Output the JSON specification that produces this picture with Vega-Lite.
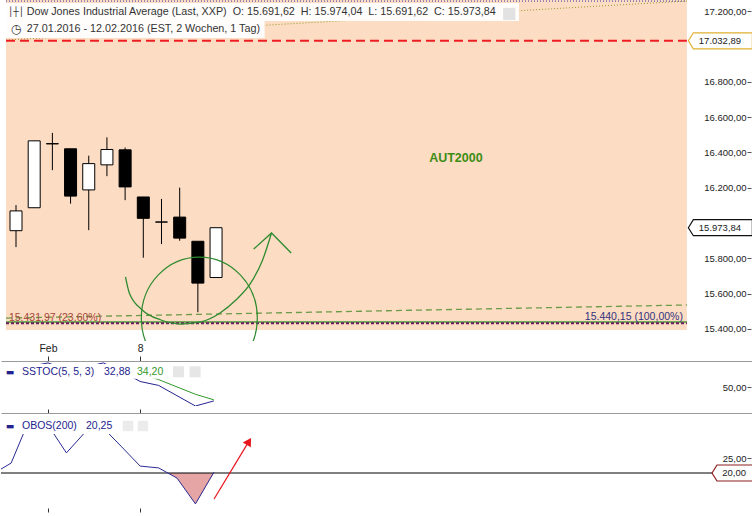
{
  "$schema": "https://vega.github.io/schema/vega-lite/v6.json",
  "background": "white",
  "padding": 0,
  "spacing": 2,
  "config": {
    "view": {"stroke": null},
    "font": "Liberation Sans",
    "axis": {"labelOverlap": false, "labelBound": false},
    "locale": {"number": {"decimal": ",", "thousands": ".", "grouping": [3], "currency": ["", " €"]}}
  },
  "datasets": {
    "candles": [
      {"date": "2016-01-28", "i": 0, "o": 15957, "h": 16102, "l": 15864, "c": 16069},
      {"date": "2016-01-29", "i": 1, "o": 16087, "h": 16466, "l": 16087, "c": 16466},
      {"date": "2016-02-01", "i": 2, "o": 16450, "h": 16511, "l": 16300, "c": 16449},
      {"date": "2016-02-02", "i": 3, "o": 16421, "h": 16421, "l": 16110, "c": 16153},
      {"date": "2016-02-03", "i": 4, "o": 16188, "h": 16382, "l": 15960, "c": 16337},
      {"date": "2016-02-04", "i": 5, "o": 16330, "h": 16486, "l": 16266, "c": 16417},
      {"date": "2016-02-05", "i": 6, "o": 16415, "h": 16428, "l": 16130, "c": 16205},
      {"date": "2016-02-08", "i": 7, "o": 16148, "h": 16148, "l": 15804, "c": 16027},
      {"date": "2016-02-09", "i": 8, "o": 16006, "h": 16137, "l": 15881, "c": 16006},
      {"date": "2016-02-10", "i": 9, "o": 16034, "h": 16201, "l": 15900, "c": 15915},
      {"date": "2016-02-11", "i": 10, "o": 15897, "h": 15897, "l": 15495, "c": 15660},
      {"date": "2016-02-12", "i": 11, "o": 15691.62, "h": 15974.04, "l": 15691.62, "c": 15973.84}
    ],
    "sstoc": [
      {"i": -1, "k": 60, "d": 64},
      {"i": 0, "k": 66, "d": 64},
      {"i": 1, "k": 76, "d": 67},
      {"i": 2, "k": 80.5, "d": 73},
      {"i": 3, "k": 72, "d": 76},
      {"i": 4, "k": 75, "d": 76},
      {"i": 5, "k": 80.5, "d": 76},
      {"i": 6, "k": 70, "d": 75},
      {"i": 7, "k": 57.2, "d": 67},
      {"i": 8, "k": 52.3, "d": 59.6},
      {"i": 9, "k": 39.4, "d": 50.4},
      {"i": 10, "k": 26.5, "d": 41.2},
      {"i": 11, "k": 32.88, "d": 34.2}
    ],
    "obos": [
      {"i": -1, "v": 19.7},
      {"i": 0, "v": 23.3},
      {"i": 1, "v": 38},
      {"i": 2, "v": 36},
      {"i": 3, "v": 26.7},
      {"i": 4, "v": 33.5},
      {"i": 5, "v": 35},
      {"i": 6, "v": 28.7},
      {"i": 7, "v": 22.3},
      {"i": 8, "v": 21.7},
      {"i": 9, "v": 18.3},
      {"i": 10, "v": 9.7},
      {"i": 11, "v": 20.25}
    ],
    "obosfill": [
      {"i": 8.5, "f": 20},
      {"i": 9, "f": 18.3},
      {"i": 10, "f": 9.7},
      {"i": 11, "f": 20}
    ],
    "arc": [
      {"i": 6.02, "p": 15695},
      {"i": 6.23, "p": 15604},
      {"i": 6.94, "p": 15508},
      {"i": 7.97, "p": 15451},
      {"i": 9.05, "p": 15428},
      {"i": 10.14, "p": 15440},
      {"i": 11.22, "p": 15491},
      {"i": 12.09, "p": 15564},
      {"i": 12.91, "p": 15661},
      {"i": 13.56, "p": 15791},
      {"i": 14.05, "p": 15944}
    ],
    "chevron": [
      {"i": 13.07, "p": 15853},
      {"i": 14.05, "p": 15944},
      {"i": 15.13, "p": 15831}
    ],
    "one": [{}]
  },
  "vconcat": [
    {
      "width": 752,
      "height": 341,
      "layer": [
        {
          "data": {"name": "one"},
          "mark": {"type": "rect", "color": "#FCDCC2"},
          "encoding": {
            "x": {"datum": -0.55, "type": "quantitative", "scale": {"domain": [-0.55, 40.25], "nice": false, "zero": false}, "axis": null},
            "x2": {"datum": 36.89},
            "y": {"datum": 15394, "type": "quantitative", "scale": {"domain": [15332, 17264], "nice": false, "zero": false},
              "axis": {"orient": "right", "offset": -6, "values": [15400, 15600, 15800, 16200, 16400, 16600, 16800, 17200], "format": ",.2f", "labelAlign": "right", "labelBaseline": "middle", "labelPadding": -5, "tickSize": 4, "domain": false, "grid": false, "labelFontSize": 9.5, "labelColor": "#222222", "tickColor": "#555555", "labelFlush": false, "labelOverlap": false, "title": null}},
            "y2": {"datum": 17264}
          }
        },
        {
          "data": {"name": "one"},
          "mark": {"type": "rule", "color": "#3030A8", "strokeDash": [1, 2], "strokeWidth": 1},
          "encoding": {"x": {"datum": -0.55, "axis": null}, "x2": {"datum": 36.89}, "y": {"datum": 17258, "title": null}}
        },
        {
          "data": {"name": "one"},
          "mark": {"type": "rule", "color": "#9A9A30", "strokeDash": [1, 2], "strokeWidth": 1},
          "encoding": {"x": {"datum": -0.55, "axis": null}, "x2": {"datum": 36.89}, "y": {"datum": 17037, "title": null}, "y2": {"datum": 17258}}
        },
        {
          "data": {"values": [{"level": 17032.89}]},
          "mark": {"type": "rule", "color": "#EE1C24", "strokeDash": [9, 5], "strokeWidth": 2},
          "encoding": {"x": {"datum": -0.55, "axis": null}, "x2": {"datum": 36.89}, "y": {"field": "level", "type": "quantitative", "title": null}}
        },
        {
          "data": {"name": "one"},
          "mark": {"type": "rect", "color": "white", "opacity": 0.93},
          "encoding": {"x": {"datum": -0.55, "axis": null}, "x2": {"datum": 27.66}, "y": {"datum": 17145, "title": null}, "y2": {"datum": 17247}}
        },
        {
          "data": {"name": "one"},
          "mark": {"type": "rect", "color": "white", "opacity": 0.93},
          "encoding": {"x": {"datum": -0.55, "axis": null}, "x2": {"datum": 13.67}, "y": {"datum": 17049, "title": null}, "y2": {"datum": 17145}}
        },
        {
          "data": {"values": [{"label": "Dow Jones Industrial Average (Last, XXP)\u00a0 O: 15.691,62\u00a0 H: 15.974,04\u00a0 L: 15.691,62\u00a0 C: 15.973,84"}]},
          "mark": {"type": "text", "align": "left", "baseline": "middle", "fontSize": 10.75, "color": "#333333"},
          "encoding": {"x": {"datum": 0.59, "axis": null}, "y": {"datum": 17196, "title": null}, "text": {"field": "label"}}
        },
        {
          "data": {"values": [{"label": "27.01.2016 - 12.02.2016 (EST, 2 Wochen, 1 Tag)"}]},
          "mark": {"type": "text", "align": "left", "baseline": "middle", "fontSize": 10.75, "color": "#333333"},
          "encoding": {"x": {"datum": 0.59, "axis": null}, "y": {"datum": 17100, "title": null}, "text": {"field": "label"}}
        },
        {
          "data": {"values": [{"label": "│┼│"}]},
          "mark": {"type": "text", "align": "center", "baseline": "middle", "fontSize": 9, "font": "DejaVu Sans", "color": "#333333"},
          "encoding": {"x": {"datum": 0, "axis": null}, "y": {"datum": 17196, "title": null}, "text": {"field": "label"}}
        },
        {
          "data": {"values": [{"label": "◷"}]},
          "mark": {"type": "text", "align": "center", "baseline": "middle", "fontSize": 12, "font": "DejaVu Sans", "color": "#333333"},
          "encoding": {"x": {"datum": 0, "axis": null}, "y": {"datum": 17100, "title": null}, "text": {"field": "label"}}
        },
        {
          "data": {"name": "one"},
          "mark": {"type": "point", "shape": "square", "filled": true, "size": 150, "color": "#E2E2E2", "opacity": 1},
          "encoding": {"x": {"datum": 27.12, "axis": null}, "y": {"datum": 17185, "title": null}}
        },
        {
          "data": {"values": [{"label": "AUT2000"}]},
          "mark": {"type": "text", "align": "center", "baseline": "middle", "fontSize": 12.5, "fontWeight": "bold", "color": "#3C8C14"},
          "encoding": {"x": {"datum": 24.19, "axis": null}, "y": {"datum": 16369, "title": null}, "text": {"field": "label"}}
        },
        {
          "data": {"name": "one"},
          "mark": {"type": "rule", "color": "#6B9A48", "strokeDash": [6, 4], "strokeWidth": 1.3},
          "encoding": {"x": {"datum": -0.55, "axis": null}, "x2": {"datum": 36.89}, "y": {"datum": 15462, "title": null}, "y2": {"datum": 15536}}
        },
        {
          "data": {"values": [{"level": 15440.15}]},
          "mark": {"type": "rule", "color": "#4C9A3C", "strokeWidth": 1.5},
          "encoding": {"x": {"datum": -0.55, "axis": null}, "x2": {"datum": 36.89}, "y": {"field": "level", "type": "quantitative", "title": null}}
        },
        {
          "data": {"values": [{"level": 15431.97}]},
          "mark": {"type": "rule", "color": "#6B1D5E", "strokeDash": [3, 2], "strokeWidth": 2},
          "encoding": {"x": {"datum": -0.55, "axis": null}, "x2": {"datum": 36.89}, "y": {"field": "level", "type": "quantitative", "title": null}}
        },
        {
          "data": {"values": [{"level": 15431.97, "label": "15.431,97 (23,60%)"}]},
          "mark": {"type": "text", "align": "left", "baseline": "alphabetic", "dy": -2, "fontSize": 10.5, "color": "#A8473A"},
          "encoding": {"x": {"datum": -0.39, "axis": null}, "y": {"field": "level", "type": "quantitative", "title": null}, "text": {"field": "label"}}
        },
        {
          "data": {"values": [{"level": 15440.15, "label": "15.440,15 (100,00%)"}]},
          "mark": {"type": "text", "align": "right", "baseline": "alphabetic", "dy": -1.5, "fontSize": 10.5, "color": "#33337F"},
          "encoding": {"x": {"datum": 36.67, "axis": null}, "y": {"field": "level", "type": "quantitative", "title": null}, "text": {"field": "label"}}
        },
        {
          "data": {"name": "candles"},
          "mark": {"type": "rule", "color": "black", "strokeWidth": 1},
          "encoding": {
            "x": {"field": "i", "type": "quantitative", "axis": null},
            "y": {"field": "l", "type": "quantitative", "title": null},
            "y2": {"field": "h"}
          }
        },
        {
          "data": {"name": "candles"},
          "mark": {"type": "bar", "width": 12, "stroke": "black", "strokeWidth": 1},
          "encoding": {
            "x": {"field": "i", "type": "quantitative", "axis": null},
            "y": {"field": "o", "type": "quantitative", "title": null},
            "y2": {"field": "c"},
            "fill": {"condition": {"test": "datum.c < datum.o", "value": "black"}, "value": "white"}
          }
        },
        {
          "data": {"name": "one"},
          "mark": {"type": "point", "shape": "M -1 0 C -1 -0.581 -0.552 -1.052 0 -1.052 C 0.552 -1.052 1 -0.581 1 0 C 1 0.581 0.552 1.052 0 1.052 C -0.552 1.052 -1 0.581 -1 0 Z", "size": 13456, "filled": false, "stroke": "#2E8B30", "strokeWidth": 1.2, "opacity": 1, "clip": true},
          "encoding": {"x": {"datum": 10.08, "axis": null}, "y": {"datum": 15462, "title": null}}
        },
        {
          "data": {"name": "arc"},
          "mark": {"type": "line", "interpolate": "monotone", "color": "#2E8B30", "strokeWidth": 1.3, "clip": true},
          "encoding": {"x": {"field": "i", "type": "quantitative", "axis": null}, "y": {"field": "p", "type": "quantitative", "title": null}}
        },
        {
          "data": {"name": "chevron"},
          "mark": {"type": "line", "color": "#2E8B30", "strokeWidth": 1.3},
          "encoding": {"x": {"field": "i", "type": "quantitative", "axis": null}, "y": {"field": "p", "type": "quantitative", "title": null}}
        },
        {
          "data": {"values": [{"level": 17032.89}]},
          "mark": {"type": "point", "shape": "M -1 0 L -0.844 -0.25 L 1 -0.25 L 1 0.25 L -0.844 0.25 Z", "size": 4096, "filled": true, "fill": "white", "stroke": "#E0B030", "strokeWidth": 1.2, "opacity": 1},
          "encoding": {"x": {"datum": 38.73, "axis": null}, "y": {"field": "level", "type": "quantitative", "title": null}}
        },
        {
          "data": {"values": [{"level": 17032.89, "label": "17.032,89"}]},
          "mark": {"type": "text", "align": "right", "baseline": "middle", "fontSize": 9.5, "color": "#222222"},
          "encoding": {"x": {"datum": 39.87, "axis": null}, "y": {"field": "level", "type": "quantitative", "title": null}, "text": {"field": "label"}}
        },
        {
          "data": {"values": [{"level": 15973.84}]},
          "mark": {"type": "point", "shape": "M -1 0 L -0.844 -0.25 L 1 -0.25 L 1 0.25 L -0.844 0.25 Z", "size": 4096, "filled": true, "fill": "white", "stroke": "#111111", "strokeWidth": 1.2, "opacity": 1},
          "encoding": {"x": {"datum": 38.73, "axis": null}, "y": {"field": "level", "type": "quantitative", "title": null}}
        },
        {
          "data": {"values": [{"level": 15973.84, "label": "15.973,84"}]},
          "mark": {"type": "text", "align": "right", "baseline": "middle", "fontSize": 9.5, "color": "#222222"},
          "encoding": {"x": {"datum": 39.87, "axis": null}, "y": {"field": "level", "type": "quantitative", "title": null}, "text": {"field": "label"}}
        }
      ]
    },
    {
      "width": 752,
      "height": 45,
      "layer": [
        {
          "data": {"name": "sstoc"},
          "mark": {"type": "line", "color": "#23238E", "strokeWidth": 1, "clip": true},
          "encoding": {
            "x": {"field": "i", "type": "quantitative", "scale": {"domain": [-0.55, 40.25], "nice": false, "zero": false},
              "axis": {"orient": "top", "values": [2, 7], "labelExpr": "datum.value == 2 ? 'Feb' : '8'", "tickSize": 5, "labelPadding": 3, "domainColor": "#9A9A9A", "tickColor": "#333333", "labelColor": "#222222", "labelFontSize": 10.5, "grid": false, "title": null, "labelFlush": false}},
            "y": {"field": "k", "type": "quantitative", "scale": {"domain": [26.5, 82.9], "nice": false, "zero": false},
              "axis": {"orient": "right", "offset": -6, "values": [50], "format": ",.2f", "labelAlign": "right", "labelBaseline": "middle", "labelPadding": -5, "tickSize": 4, "domain": false, "grid": false, "labelFontSize": 9.5, "labelColor": "#222222", "tickColor": "#555555", "labelFlush": false, "title": null}}
          }
        },
        {
          "data": {"name": "sstoc"},
          "mark": {"type": "line", "color": "#33992A", "strokeWidth": 1, "clip": true},
          "encoding": {
            "x": {"field": "i", "type": "quantitative", "title": null},
            "y": {"field": "d", "type": "quantitative", "title": null}
          }
        },
        {
          "data": {"name": "one"},
          "mark": {"type": "rect", "color": "white", "opacity": 1},
          "encoding": {"x": {"datum": -0.55, "title": null}, "x2": {"datum": 8.4}, "y": {"datum": 60.8, "title": null}, "y2": {"datum": 79.2}}
        },
        {
          "data": {"values": [{"label": "▬"}]},
          "mark": {"type": "text", "align": "center", "baseline": "middle", "fontSize": 9, "font": "DejaVu Sans", "color": "#23238E"},
          "encoding": {"x": {"datum": -0.06, "title": null}, "y": {"datum": 69.4, "title": null}, "text": {"field": "label"}}
        },
        {
          "data": {"values": [{"label": "SSTOC(5, 5, 3)"}]},
          "mark": {"type": "text", "align": "left", "baseline": "middle", "fontSize": 10.5, "color": "#23238E"},
          "encoding": {"x": {"datum": 0.59, "title": null}, "y": {"datum": 69.4, "title": null}, "text": {"field": "label"}}
        },
        {
          "data": {"values": [{"label": "32,88"}]},
          "mark": {"type": "text", "align": "left", "baseline": "middle", "fontSize": 10.5, "color": "#23238E"},
          "encoding": {"x": {"datum": 5.04, "title": null}, "y": {"datum": 69.4, "title": null}, "text": {"field": "label"}}
        },
        {
          "data": {"values": [{"label": "34,20"}]},
          "mark": {"type": "text", "align": "left", "baseline": "middle", "fontSize": 10.5, "color": "#33992A"},
          "encoding": {"x": {"datum": 6.83, "title": null}, "y": {"datum": 69.4, "title": null}, "text": {"field": "label"}}
        },
        {
          "data": {"name": "one"},
          "mark": {"type": "point", "shape": "square", "filled": true, "size": 121, "color": "#E6E6E6", "opacity": 1},
          "encoding": {"x": {"datum": 9.08, "title": null}, "y": {"datum": 69.4, "title": null}}
        },
        {
          "data": {"name": "one"},
          "mark": {"type": "point", "shape": "square", "filled": true, "size": 121, "color": "#E6E6E6", "opacity": 1},
          "encoding": {"x": {"datum": 9.98, "title": null}, "y": {"datum": 69.4, "title": null}}
        }
      ]
    },
    {
      "width": 752,
      "height": 99,
      "resolve": {"axis": {"x": "independent"}},
      "layer": [
        {
          "data": {"name": "obosfill"},
          "mark": {"type": "area", "color": "#E5A5A5", "opacity": 1},
          "encoding": {
            "x": {"field": "i", "type": "quantitative", "scale": {"domain": [-0.55, 40.25], "nice": false, "zero": false},
              "axis": {"orient": "top", "values": [2, 7], "labels": false, "tickSize": 4, "domainColor": "#9A9A9A", "tickColor": "#333333", "grid": false, "title": null}},
            "y": {"field": "f", "type": "quantitative", "scale": {"domain": [7, 40], "nice": false, "zero": false},
              "axis": {"orient": "right", "offset": -6, "values": [25], "format": ",.2f", "labelAlign": "right", "labelBaseline": "middle", "labelPadding": -5, "tickSize": 4, "domain": false, "grid": false, "labelFontSize": 9.5, "labelColor": "#222222", "tickColor": "#555555", "labelFlush": false, "title": null}},
            "y2": {"datum": 20}
          }
        },
        {
          "data": {"values": [{"level": 20}]},
          "mark": {"type": "rule", "color": "black", "strokeWidth": 1},
          "encoding": {"y": {"field": "level", "type": "quantitative", "title": null}}
        },
        {
          "data": {"name": "obos"},
          "mark": {"type": "line", "color": "#2A2A96", "strokeWidth": 1, "clip": true},
          "encoding": {
            "x": {"field": "i", "type": "quantitative",
              "axis": {"orient": "bottom", "values": [2, 7], "labels": false, "tickSize": -4, "domain": false, "tickColor": "#333333", "grid": false, "title": null}},
            "y": {"field": "v", "type": "quantitative", "title": null}
          }
        },
        {
          "data": {"name": "one"},
          "mark": {"type": "rect", "color": "white", "opacity": 1},
          "encoding": {"x": {"datum": -0.55, "axis": null}, "x2": {"datum": 5.69}, "y": {"datum": 33, "title": null}, "y2": {"datum": 39.33}}
        },
        {
          "data": {"values": [{"label": "▬"}]},
          "mark": {"type": "text", "align": "center", "baseline": "middle", "fontSize": 9, "font": "DejaVu Sans", "color": "#23238E"},
          "encoding": {"x": {"datum": -0.06, "axis": null}, "y": {"datum": 35.67, "title": null}, "text": {"field": "label"}}
        },
        {
          "data": {"values": [{"label": "OBOS(200)"}]},
          "mark": {"type": "text", "align": "left", "baseline": "middle", "fontSize": 10.5, "color": "#23238E"},
          "encoding": {"x": {"datum": 0.59, "axis": null}, "y": {"datum": 35.67, "title": null}, "text": {"field": "label"}}
        },
        {
          "data": {"values": [{"label": "20,25"}]},
          "mark": {"type": "text", "align": "left", "baseline": "middle", "fontSize": 10.5, "color": "#23238E"},
          "encoding": {"x": {"datum": 4.06, "axis": null}, "y": {"datum": 35.67, "title": null}, "text": {"field": "label"}}
        },
        {
          "data": {"name": "one"},
          "mark": {"type": "point", "shape": "square", "filled": true, "size": 110, "color": "#EBEBEB", "opacity": 1},
          "encoding": {"x": {"datum": 6.34, "axis": null}, "y": {"datum": 35.67, "title": null}}
        },
        {
          "data": {"name": "one"},
          "mark": {"type": "point", "shape": "square", "filled": true, "size": 110, "color": "#EBEBEB", "opacity": 1},
          "encoding": {"x": {"datum": 7.15, "axis": null}, "y": {"datum": 35.67, "title": null}}
        },
        {
          "data": {"name": "one"},
          "mark": {"type": "rule", "color": "#E8141C", "strokeWidth": 1.2},
          "encoding": {"x": {"datum": 11.01, "axis": null}, "x2": {"datum": 12.9}, "y": {"datum": 11.33, "title": null}, "y2": {"datum": 30.53}}
        },
        {
          "data": {"name": "one"},
          "mark": {"type": "point", "shape": "triangle-up", "angle": 31, "filled": true, "size": 90, "color": "#E8141C", "opacity": 1},
          "encoding": {"x": {"datum": 12.9, "axis": null}, "y": {"datum": 30.53, "title": null}}
        },
        {
          "data": {"values": [{"level": 20}]},
          "mark": {"type": "point", "shape": "M -1 0 L -0.773 -0.364 L 1 -0.364 L 1 0.364 L -0.773 0.364 Z", "size": 1936, "filled": true, "fill": "white", "stroke": "#8B1C1C", "strokeWidth": 1.2, "opacity": 1},
          "encoding": {"x": {"datum": 39.22, "axis": null}, "y": {"field": "level", "type": "quantitative", "title": null}}
        },
        {
          "data": {"values": [{"level": 20, "label": "20,00"}]},
          "mark": {"type": "text", "align": "right", "baseline": "middle", "fontSize": 9.5, "color": "#222222"},
          "encoding": {"x": {"datum": 39.87, "axis": null}, "y": {"field": "level", "type": "quantitative", "title": null}, "text": {"field": "label"}}
        }
      ]
    }
  ]
}
